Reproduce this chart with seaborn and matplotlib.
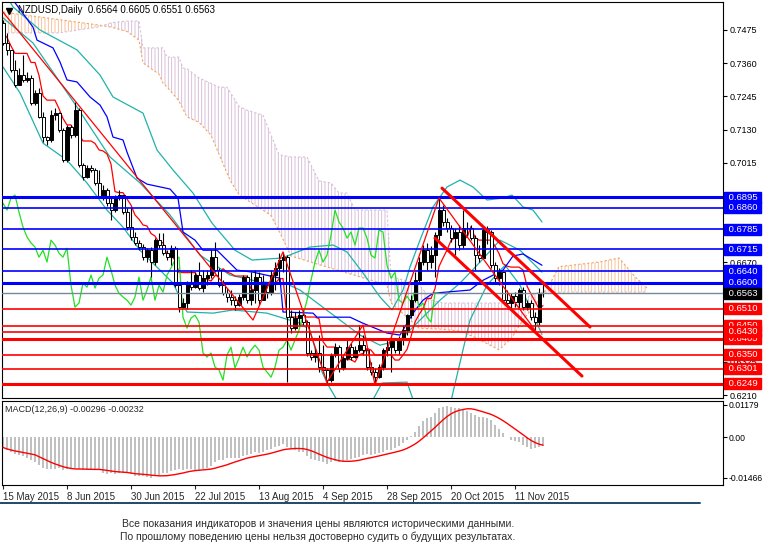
import numpy as np
import pandas as pd
import matplotlib
matplotlib.use("Agg")
import matplotlib.pyplot as plt
import matplotlib.transforms as mtransforms
from matplotlib.lines import Line2D
import seaborn as sns

sns.set_style("white")
plt.rcParams["font.family"] = ["Liberation Sans", "DejaVu Sans"]
plt.rcParams["hatch.linewidth"] = 0.6

# NZDUSD daily bars, 15 May 2015 .. 20 Nov 2015
first_open = 0.7499
closes = [
    0.7430, 0.7406, 0.7336, 0.7284, 0.7319, 0.7302, 0.7309, 0.7222, 0.7257, 0.7174,
    0.7104, 0.7094, 0.7180, 0.7187, 0.7128, 0.7024, 0.7139, 0.7111, 0.7198, 0.7007,
    0.6966, 0.6997, 0.6990, 0.6945, 0.6896, 0.6921, 0.6875, 0.6851, 0.6893, 0.6903,
    0.6844, 0.6792, 0.6758, 0.6737, 0.6723, 0.6688, 0.6712, 0.6671, 0.6747, 0.6730,
    0.6702, 0.6688, 0.6719, 0.6591, 0.6515, 0.6529, 0.6598, 0.6584, 0.6626, 0.6581,
    0.6615, 0.6626, 0.6688, 0.6643, 0.6591, 0.6563, 0.6550, 0.6539, 0.6522, 0.6550,
    0.6619, 0.6539, 0.6574, 0.6619, 0.6539, 0.6591, 0.6567, 0.6626, 0.6650, 0.6678,
    0.6688, 0.6480, 0.6442, 0.6477, 0.6487, 0.6463, 0.6356, 0.6342, 0.6356, 0.6307,
    0.6297, 0.6262, 0.6349, 0.6376, 0.6304, 0.6338, 0.6376, 0.6342, 0.6366, 0.6383,
    0.6366, 0.6307, 0.6290, 0.6272, 0.6307, 0.6366, 0.6376, 0.6401, 0.6366, 0.6401,
    0.6435, 0.6487, 0.6539, 0.6608, 0.6671, 0.6712, 0.6671, 0.6695, 0.6764, 0.6851,
    0.6810, 0.6789, 0.6754, 0.6775, 0.6730, 0.6789, 0.6789, 0.6754, 0.6695, 0.6685,
    0.6782, 0.6775, 0.6660, 0.6615, 0.6636, 0.6539, 0.6529, 0.6553, 0.6532, 0.6574,
    0.6515, 0.6529, 0.6480, 0.6463, 0.6564, 0.6563,
]
highs = [
    0.7510, 0.7465, 0.7406, 0.7371, 0.7343, 0.7388, 0.7329, 0.7319, 0.7267, 0.7274,
    0.7191, 0.7108, 0.7198, 0.7205, 0.7191, 0.7135, 0.7146, 0.7146, 0.7226, 0.7205,
    0.7014, 0.7007, 0.7007, 0.6997, 0.6990, 0.6938, 0.6927, 0.6896, 0.6903, 0.6921,
    0.6903, 0.6858, 0.6858, 0.6775, 0.6747, 0.6733, 0.6719, 0.6723, 0.6754, 0.6771,
    0.6771, 0.6712, 0.6730, 0.6726, 0.6598, 0.6546, 0.6605, 0.6643, 0.6636, 0.6671,
    0.6643, 0.6643, 0.6712, 0.6740, 0.6650, 0.6608, 0.6581, 0.6574, 0.6553, 0.6560,
    0.6626, 0.6626, 0.6636, 0.6643, 0.6636, 0.6626, 0.6598, 0.6643, 0.6671, 0.6702,
    0.6706, 0.6695, 0.6505, 0.6498, 0.6505, 0.6505, 0.6470, 0.6366, 0.6373, 0.6418,
    0.6383, 0.6304, 0.6356, 0.6390, 0.6383, 0.6349, 0.6401, 0.6390, 0.6380, 0.6453,
    0.6418, 0.6373, 0.6324, 0.6304, 0.6317, 0.6373, 0.6401, 0.6418, 0.6408, 0.6414,
    0.6453, 0.6491, 0.6556, 0.6636, 0.6688, 0.6730, 0.6737, 0.6726, 0.6775, 0.6893,
    0.6869, 0.6823, 0.6799, 0.6789, 0.6799, 0.6851, 0.6810, 0.6799, 0.6764, 0.6730,
    0.6789, 0.6796, 0.6782, 0.6671, 0.6650, 0.6636, 0.6574, 0.6563, 0.6567, 0.6581,
    0.6584, 0.6539, 0.6539, 0.6498, 0.6581, 0.6605,
]
lows = [
    0.7423, 0.7388, 0.7329, 0.7278, 0.7284, 0.7295, 0.7295, 0.7215, 0.7215, 0.7170,
    0.7087, 0.7076, 0.7087, 0.7163, 0.7122, 0.7018, 0.7018, 0.7101, 0.7104, 0.7000,
    0.6955, 0.6962, 0.6983, 0.6938, 0.6893, 0.6886, 0.6865, 0.6816, 0.6844, 0.6886,
    0.6837, 0.6782, 0.6747, 0.6730, 0.6712, 0.6678, 0.6671, 0.6619, 0.6660, 0.6719,
    0.6695, 0.6678, 0.6660, 0.6584, 0.6498, 0.6511, 0.6508, 0.6574, 0.6581, 0.6574,
    0.6567, 0.6591, 0.6615, 0.6636, 0.6584, 0.6556, 0.6532, 0.6522, 0.6505, 0.6518,
    0.6539, 0.6529, 0.6522, 0.6529, 0.6522, 0.6539, 0.6546, 0.6556, 0.6574, 0.6598,
    0.6636, 0.6255, 0.6425, 0.6435, 0.6453, 0.6453, 0.6345, 0.6331, 0.6324, 0.6290,
    0.6286, 0.6248, 0.6255, 0.6342, 0.6290, 0.6297, 0.6331, 0.6331, 0.6338, 0.6359,
    0.6349, 0.6297, 0.6279, 0.6245, 0.6269, 0.6297, 0.6345, 0.6290, 0.6356, 0.6352,
    0.6383, 0.6418, 0.6477, 0.6532, 0.6598, 0.6660, 0.6643, 0.6650, 0.6619, 0.6747,
    0.6796, 0.6775, 0.6740, 0.6695, 0.6712, 0.6719, 0.6761, 0.6747, 0.6643, 0.6671,
    0.6685, 0.6733, 0.6650, 0.6602, 0.6591, 0.6532, 0.6518, 0.6511, 0.6515, 0.6511,
    0.6505, 0.6505, 0.6470, 0.6435, 0.6453, 0.6551,
]

# MACD(12,26,9) main line, one value per bar
macd_main = [
    -0.0036, -0.0047, -0.0053, -0.0059, -0.0062, -0.0067, -0.0073, -0.0081, -0.0087, -0.0098,
    -0.0112, -0.0115, -0.0115, -0.0113, -0.0112, -0.0119, -0.0113, -0.0113, -0.0112, -0.0113,
    -0.0119, -0.0119, -0.0119, -0.0113, -0.0119, -0.0127, -0.0132, -0.0130, -0.0132, -0.0130,
    -0.0127, -0.0130, -0.0132, -0.0138, -0.0138, -0.0141, -0.0144, -0.0147, -0.0141, -0.0138,
    -0.0130, -0.0127, -0.0121, -0.0119, -0.0115, -0.0119, -0.0115, -0.0115, -0.0119, -0.0119,
    -0.0113, -0.0110, -0.0104, -0.0087, -0.0081, -0.0081, -0.0076, -0.0073, -0.0073, -0.0073,
    -0.0067, -0.0062, -0.0059, -0.0053, -0.0057, -0.0053, -0.0047, -0.0042, -0.0036, -0.0031,
    -0.0025, -0.0036, -0.0042, -0.0047, -0.0053, -0.0053, -0.0067, -0.0078, -0.0081, -0.0085,
    -0.0089, -0.0095, -0.0089, -0.0085, -0.0087, -0.0085, -0.0081, -0.0078, -0.0073, -0.0070,
    -0.0064, -0.0059, -0.0062, -0.0059, -0.0055, -0.0051, -0.0047, -0.0044, -0.0038, -0.0031,
    -0.0021, -0.0008, 0.0006, 0.0020, 0.0040, 0.0058, 0.0071, 0.0073, 0.0088, 0.0105,
    0.0111, 0.0114, 0.0111, 0.0105, 0.0105, 0.0099, 0.0096, 0.0088, 0.0082, 0.0075,
    0.0075, 0.0071, 0.0062, 0.0045, 0.0032, 0.0017, 0.0003, -0.0010, -0.0014, -0.0017,
    -0.0028, -0.0036, -0.0042, -0.0038, -0.0036, -0.00296,
]

# indicator lines: bar index -> price
kijun_bar = [0, 2.5, 7.5, 8.5, 12.5, 14.25, 16, 18.5, 21.75, 24.25, 26, 27.5, 30, 31,
             33.5, 36, 41.75, 43.75, 45, 48, 50, 53.5, 58.5, 62.5, 69.25, 70, 77.5,
             78.5, 86.75, 90, 96, 99.25, 102.5, 105, 107.5, 116.75, 120, 125, 127.5,
             130, 134.75]
kijun_val = [0.7596, 0.7579, 0.7485, 0.7440, 0.7413, 0.7364, 0.7302, 0.7295, 0.7243,
             0.7215, 0.7174, 0.7104, 0.7094, 0.7052, 0.6962, 0.6941, 0.6924, 0.6893,
             0.6775, 0.6747, 0.6712, 0.6712, 0.6643, 0.6636, 0.6615, 0.6498, 0.6494,
             0.6480, 0.6480, 0.6459, 0.6425, 0.6418, 0.6494, 0.6539, 0.6563, 0.6574,
             0.6608, 0.6643, 0.6692, 0.6699, 0.6660]

bb_up_bar = [0, 2.5, 9.25, 18.5, 24.25, 27.5, 35, 38.5, 42.5, 47.5, 52.25, 58, 62.25,
             69.75, 76.75, 82.5, 86, 90, 94.25, 97.25, 100, 101.75, 104.25, 107.5, 111,
             114.25, 117.5, 121, 125, 127.25, 130, 132.5, 134.75]
bb_up_val = [0.7614, 0.7555, 0.7475, 0.7406, 0.7319, 0.7243, 0.7187, 0.7059, 0.6990,
             0.6910, 0.6806, 0.6712, 0.6678, 0.6685, 0.6723, 0.6730, 0.6706, 0.6633,
             0.6550, 0.6505, 0.6574, 0.6654, 0.6747, 0.6862, 0.6931, 0.6955, 0.6931,
             0.6886, 0.6893, 0.6903, 0.6862, 0.6851, 0.6810]
bb_mid_bar = [0, 7.5, 18.5, 26.75, 34.25, 41.75, 49.25, 56.75, 64.25, 70.5, 74.25, 79.25,
              84.25, 89.25, 94.25, 99.25, 104.25, 109.25, 114.25, 119.25, 124.25,
              129.25, 134.75]
bb_mid_val = [0.7517, 0.7430, 0.7208, 0.7035, 0.6945, 0.6834, 0.6695, 0.6626, 0.6602,
              0.6598, 0.6574, 0.6522, 0.6470, 0.6418, 0.6383, 0.6401, 0.6470, 0.6539,
              0.6598, 0.6671, 0.6747, 0.6712, 0.6636]
bb_low_bar = [0, 4.25, 10, 16, 21, 26, 30, 34.25, 42.5, 46, 52.5, 57.5, 66, 70, 74.25,
              76.75, 79.25, 81, 84.25, 91.75, 94.75, 101, 103, 111.75, 116.75, 121,
              125.5, 129.25, 134.75]
bb_low_val = [0.7347, 0.7257, 0.7083, 0.7024, 0.6945, 0.6851, 0.6792, 0.6712, 0.6598,
              0.6498, 0.6494, 0.6505, 0.6494, 0.6477, 0.6459, 0.6435, 0.6307, 0.6252,
              0.6175, 0.6175, 0.6252, 0.6255, 0.6175, 0.6175, 0.6470, 0.6591, 0.6660,
              0.6591, 0.6420]

cloud_bar = [0, 14, 24, 27, 31, 34, 35, 39, 40, 41, 44, 45, 46, 49, 52, 54, 56, 57, 59,
             61, 65, 67, 69, 72, 76, 79, 82, 84, 86, 88, 96, 97, 104, 107, 110, 114, 118,
             124, 127, 130, 134, 137, 139, 149, 154, 158, 161]
span_a = [0.7537, 0.7511, 0.7492, 0.7485, 0.7470, 0.7440, 0.7361, 0.7322, 0.7291, 0.7278,
          0.7229, 0.7201, 0.7174, 0.7155, 0.7111, 0.7045, 0.6979, 0.6949, 0.6905, 0.6886,
          0.6851, 0.6832, 0.6779, 0.6692, 0.6675, 0.6662, 0.6650, 0.6641, 0.6633, 0.6625,
          0.6591, 0.6530, 0.6442, 0.6440, 0.6438, 0.6432, 0.6410, 0.6367, 0.6405, 0.6470,
          0.6540, 0.6603, 0.6655, 0.6671, 0.6685, 0.6620, 0.6581]
span_b = [0.7465, 0.7465, 0.7486, 0.7500, 0.7506, 0.7506, 0.7413, 0.7413, 0.7413, 0.7381,
          0.7381, 0.7343, 0.7341, 0.7309, 0.7290, 0.7277, 0.7277, 0.7255, 0.7210, 0.7197,
          0.7180, 0.7111, 0.7043, 0.7035, 0.7035, 0.6952, 0.6945, 0.6910, 0.6910, 0.6851,
          0.6851, 0.6620, 0.6594, 0.6540, 0.6529, 0.6529, 0.6529, 0.6529, 0.6530, 0.6545,
          0.6566, 0.6567, 0.6567, 0.6567, 0.6567, 0.6567, 0.6567]

# drawn objects
zigzag_bar = [0, 62.5, 70, 81, 90, 93, 109, 133]
zigzag_val = [0.7537, 0.6470, 0.6706, 0.6255, 0.6453, 0.6245, 0.6893, 0.6435]
channel_top_bar = [109.75, 146.75]
channel_top_val = [0.6927, 0.6446]
channel_bot_bar = [108, 144.75]
channel_bot_val = [0.6754, 0.6276]

blue_levels = [0.6895, 0.6860, 0.6785, 0.6715, 0.6640, 0.6600]
red_levels = [0.6510, 0.6450, 0.6405, 0.6430, 0.6350, 0.6301, 0.6249]
last_price = 0.6563

price_ticks = [0.7475, 0.7360, 0.7245, 0.7130, 0.7015, 0.6900, 0.6785, 0.6670,
               0.6555, 0.6440, 0.6325, 0.6210]
macd_ticks = [0.01179, 0.0, -0.01466]
macd_tick_labels = ["0.01179", "0.00", "-0.01466"]

title = "NZDUSD,Daily  0.6564 0.6605 0.6551 0.6563"
macd_title = "MACD(12,26,9) -0.00296 -0.00232"
note_lines = [
    "Все показания индикаторов и значения цены являются историческими данными.",
    "По прошлому поведению цены нельзя достоверно судить о будущих результатах.",
]

# ---------------------------------------------------------------
n = len(closes)
df = pd.DataFrame({
    "bar": np.arange(n),
    "open": [first_open] + closes[:-1],
    "high": highs,
    "low": lows,
    "close": closes,
    "macd": macd_main,
})
df["date"] = pd.bdate_range("2015-05-15", periods=n)
df["tenkan"] = (df.high.rolling(9, min_periods=1).max()
                + df.low.rolling(9, min_periods=1).min()) / 2
df["signal"] = df.macd.rolling(9, min_periods=1).mean()

W, H = 763, 552


def px_rect(x0, y0, x1, y1):
    return [x0 / W, 1 - y1 / H, (x1 - x0) / W, (y1 - y0) / H]


def line(ax, xs, ys, color, lw=0.9, z=3, **kw):
    sns.lineplot(x=list(xs), y=list(ys), ax=ax, color=color, linewidth=lw,
                 sort=False, estimator=None, legend=False, zorder=z, **kw)


fig = plt.figure(figsize=(W / 100, H / 100), dpi=100)
ax = fig.add_axes(px_rect(2, 2, 723, 398))
axm = fig.add_axes(px_rect(2, 401, 723, 485), sharex=ax)

# Ichimoku cloud
ca = np.array(span_a)
cb = np.array(span_b)
ax.fill_between(cloud_bar, ca, cb, where=ca >= cb, interpolate=True,
                facecolor="none", edgecolor="#f6b98a", hatch="|||||", lw=0, zorder=1)
ax.fill_between(cloud_bar, ca, cb, where=ca < cb, interpolate=True,
                facecolor="none", edgecolor="#d2b6d2", hatch="|||||", lw=0, zorder=1)
line(ax, cloud_bar, span_a, "#f4a460", lw=0.8, z=1.5, linestyle=(0, (2, 2)))
line(ax, cloud_bar, span_b, "#d8bfd8", lw=0.8, z=1.5, linestyle=(0, (2, 2)))

# Bollinger bands
for xs, ys in [(bb_up_bar, bb_up_val), (bb_mid_bar, bb_mid_val), (bb_low_bar, bb_low_val)]:
    line(ax, xs, ys, "#20b2aa", lw=0.9, z=2)

# Ichimoku lines
line(ax, df.bar, df.tenkan, "#ff0000", lw=0.9, z=2.2)
line(ax, kijun_bar, kijun_val, "#0000ff", lw=0.9, z=2.2)
line(ax, df.bar[26:] - 26, df.close[26:], "#22e022", lw=0.9, z=2.2)

# candles
ax.vlines(df.bar, df.low, df.high, color="black", lw=0.8, zorder=4)
up = df.close >= df.open
ax.bar(df.bar[up], (df.close - df.open)[up], bottom=df.open[up], width=0.75,
       color="black", edgecolor="black", lw=0.7, zorder=5)
ax.bar(df.bar[~up], (df.open - df.close)[~up], bottom=df.close[~up], width=0.75,
       color="white", edgecolor="black", lw=0.7, zorder=5)

# horizontal levels
for lv in blue_levels:
    ax.axhline(lv, color="#0000ff", lw=2.2 if lv in (0.6895, 0.6600) else 1.2, zorder=6)
for lv in red_levels:
    ax.axhline(lv, color="#ff0000", lw=2.2 if lv in (0.6405, 0.6249) else 1.2, zorder=6)
ax.axhline(last_price, color="#778899", lw=1.0, zorder=6)

# zigzag and channel
line(ax, zigzag_bar, zigzag_val, "#ff0000", lw=0.9, z=6.5)
line(ax, channel_top_bar, channel_top_val, "#ff0000", lw=2.2, z=7)
line(ax, channel_bot_bar, channel_bot_val, "#ff0000", lw=2.2, z=7)

ax.set_xlim(-0.25, 180)
ax.set_ylim(0.6200, 0.7572)
ax.set_xlabel("")
ax.set_ylabel("")
ax.yaxis.tick_right()
ax.set_yticks(price_ticks)
ax.set_yticklabels([f"{t:.4f}" for t in price_ticks])
ax.tick_params(axis="y", labelsize=6.5, length=3, pad=2, colors="black", right=True)
ax.tick_params(axis="x", bottom=False, labelbottom=False)

# price labels on the right
tr = mtransforms.blended_transform_factory(ax.transAxes, ax.transData)
boxes = [(lv, "#0000ff") for lv in blue_levels] + [(last_price, "black")] + \
        [(lv, "#ff0000") for lv in red_levels]
for k, (lv, col) in enumerate(boxes):
    ax.text(1.0035, lv, f" {lv:.4f} ", transform=tr, ha="left", va="center",
            fontsize=6.8, color="white", clip_on=False, zorder=20 + k,
            bbox=dict(boxstyle="square,pad=0.12", fc=col, ec=col))

ax.text(0.022, 0.98, title, transform=ax.transAxes, fontsize=7, va="center", ha="left",
        color="black", zorder=30)
ax.plot([0.0095], [0.978], marker="v", color="black", ms=4.5,
        transform=ax.transAxes, clip_on=False, zorder=30)
ax.plot([136.5], [0.995], marker="v", color="#8c8c8c", ms=6,
        transform=tr, clip_on=False, zorder=30)

# MACD panel
axm.bar(df.bar, df.macd, width=0.6, color="#c0c0c0", lw=0, zorder=2)
line(axm, df.bar, df.signal, "#ff0000", lw=1.0, z=3)
axm.set_ylim(-0.0172, 0.0132)
axm.set_xlabel("")
axm.set_ylabel("")
axm.yaxis.tick_right()
axm.set_yticks(macd_ticks)
axm.set_yticklabels(macd_tick_labels)
axm.tick_params(axis="y", labelsize=6.2, length=3, pad=1, colors="black", right=True)
tick_bars = df.bar[::16]
axm.set_xticks(tick_bars)
axm.set_xticklabels([f"{d.day} {d.strftime('%b %Y')}" for d in df.date[::16]],
                    ha="left", fontsize=7)
axm.tick_params(axis="x", bottom=True, length=3, pad=2, labelbottom=True)
axm.text(0.004, 0.9, macd_title, transform=axm.transAxes, fontsize=6.5,
         va="center", ha="left")

for a in (ax, axm):
    for s in a.spines.values():
        s.set_color("black")
        s.set_linewidth(0.8)

fig.add_artist(Line2D([0, 700 / W], [1 - 503 / H] * 2, color="#1d4a6b", lw=1.4))
fig.text(318 / W, 1 - 524 / H, note_lines[0], ha="center", va="center",
         fontsize=7.5, color="#2b2b2b")
fig.text(318 / W, 1 - 537 / H, note_lines[1], ha="center", va="center",
         fontsize=7.5, color="#2b2b2b")

fig.savefig("out.png", dpi=100, facecolor="white")
